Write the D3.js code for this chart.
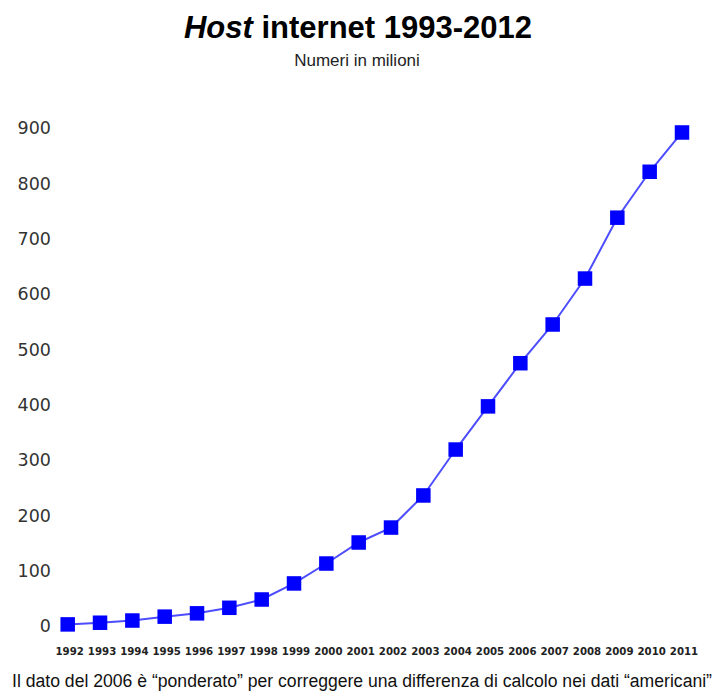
<!DOCTYPE html>
<html><head><meta charset="utf-8">
<script src="https://cdn.jsdelivr.net/npm/d3@7"></script>
<style>html,body{margin:0;padding:0;background:#fff;}svg{display:block;}</style>
</head><body>
<script>
const years = ["1992","1993","1994","1995","1996","1997","1998","1999","2000","2001","2002","2003","2004","2005","2006","2007","2008","2009","2010","2011"];
const hosts = [2, 5, 9, 16, 22, 32, 47, 76, 112, 150, 177, 235, 318, 396, 474, 544, 627, 737, 820, 891];
const yTicks = [0,100,200,300,400,500,600,700,800,900];
const titleItalic = "Host";
const titleRest = " internet 1993-2012";
const subtitle = "Numeri in milioni";
const footnote = "Il dato del 2006 è \u201cponderato\u201d per correggere una differenza di calcolo nei dati \u201camericani\u201d";

const W = 715, H = 691;
const svg = d3.select("body").append("svg").attr("width", W).attr("height", H);
svg.append("rect").attr("width", W).attr("height", H).attr("fill", "#fff");

const x = d3.scalePoint().domain(years).range([67.7, 682]);
const y = d3.scaleLinear().domain([0, 900]).range([625.5, 127.5]);

// title
const t = svg.append("text").attr("x", 358).attr("y", 38).attr("text-anchor", "middle")
  .attr("font-family", "Liberation Sans, Arial, sans-serif").attr("font-weight", "bold")
  .attr("font-size", 31).attr("fill", "#000");
t.append("tspan").attr("font-style", "italic").text(titleItalic);
t.append("tspan").text(titleRest);

svg.append("text").attr("x", 357).attr("y", 66).attr("text-anchor", "middle")
  .attr("font-family", "Liberation Sans, Arial, sans-serif").attr("font-size", 17)
  .attr("fill", "#222").text(subtitle);

// y axis labels
const yAxis = d3.axisLeft(y).tickValues(yTicks).tickSize(0).tickPadding(0);
const gy = svg.append("g").attr("transform", "translate(51,0)").call(yAxis);
gy.select(".domain").remove();
gy.selectAll("text").attr("font-family", "DejaVu Sans, Verdana, sans-serif")
  .attr("font-size", 17.5).attr("fill", "#333").attr("dy", "0.36em");

// x axis labels
const xAxis = d3.axisBottom(x).tickSize(0).tickPadding(0);
const gx = svg.append("g").attr("transform", "translate(1.5,648)").call(xAxis);
gx.select(".domain").remove();
gx.selectAll("text").attr("font-family", "DejaVu Sans, Verdana, sans-serif")
  .attr("font-weight", "bold").attr("font-size", 10.2).attr("fill", "#222").attr("dy", "0.71em");

// line
const line = d3.line().x((d, i) => x(years[i])).y(d => y(d));
svg.append("path").datum(hosts).attr("d", line).attr("fill", "none")
  .attr("stroke", "#4d4dff").attr("stroke-width", 2);

// markers
const S = 14.5;
svg.selectAll("rect.m").data(hosts).enter().append("rect").attr("class", "m")
  .attr("x", (d, i) => x(years[i]) - S/2).attr("y", d => y(d) - S/2)
  .attr("width", S).attr("height", S).attr("fill", "#0000ff");

// footnote
svg.append("text").attr("x", 362).attr("y", 687).attr("text-anchor", "middle")
  .attr("font-family", "Liberation Sans, Arial, sans-serif").attr("font-size", 17.6)
  .attr("fill", "#111").text(footnote);
</script>
</body></html>
